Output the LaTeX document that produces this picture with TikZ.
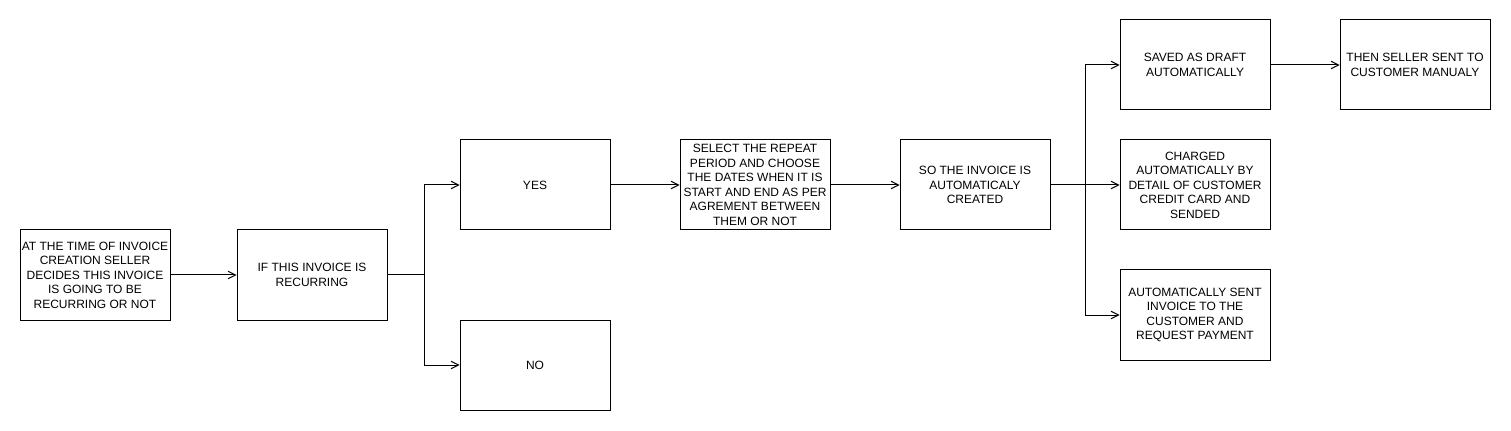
\documentclass[tikz,border=0pt]{standalone}
\usepackage{fontspec}
\setmainfont{Liberation Sans}
\usetikzlibrary{arrows.meta}
\begin{document}
\begin{tikzpicture}[x=0.75pt,y=-0.75pt,
  box/.style={draw=black,line width=0.75pt,minimum width=112.5pt,minimum height=67.5pt,inner sep=0pt,align=center,font=\fontsize{9}{10.9}\selectfont},
  arr/.style={draw=black,line width=0.75pt,-{Straight Barb[length=5.5pt,width=5.5pt,line width=0.75pt]}},
  ln/.style={draw=black,line width=0.75pt}]
\useasboundingbox (0,0) rectangle (1511,431);
\node[box] (A) at (95,275) {AT THE TIME OF INVOICE\\CREATION SELLER\\DECIDES THIS INVOICE\\IS GOING TO BE\\RECURRING OR NOT};
\node[box] (B) at (312,275) {IF THIS INVOICE IS\\RECURRING};
\node[box] (YES) at (535,185) {YES};
\node[box] (NO) at (535,365) {NO};
\node[box] (SEL) at (755,185) {SELECT THE REPEAT\\PERIOD AND CHOOSE\\THE DATES WHEN IT IS\\START AND END AS PER\\AGREMENT BETWEEN\\THEM OR NOT};
\node[box] (SO) at (975,185) {SO THE INVOICE IS\\AUTOMATICALY\\CREATED};
\node[box] (SAVED) at (1195,65) {SAVED AS DRAFT\\AUTOMATICALLY};
\node[box] (THEN) at (1415,65) {THEN SELLER SENT TO\\CUSTOMER MANUALY};
\node[box] (CHG) at (1195,185) {CHARGED\\AUTOMATICALLY BY\\DETAIL OF CUSTOMER\\CREDIT CARD AND\\SENDED};
\node[box] (AUTO) at (1195,315) {AUTOMATICALLY SENT\\INVOICE TO THE\\CUSTOMER AND\\REQUEST PAYMENT};
\coordinate (j1) at (424,275);
\coordinate (j2) at (1085,185);
\draw[arr] (A.east) -- (B.west);
\draw[ln] (B.east) -- (j1);
\draw[arr] (j1) |- (YES.west);
\draw[arr] (j1) |- (NO.west);
\draw[arr] (YES.east) -- (SEL.west);
\draw[arr] (SEL.east) -- (SO.west);
\draw[arr] (SO.east) -- (CHG.west);
\draw[arr] (j2) |- (SAVED.west);
\draw[arr] (j2) |- (AUTO.west);
\draw[arr] (SAVED.east) -- (THEN.west);
\end{tikzpicture}
\end{document}
